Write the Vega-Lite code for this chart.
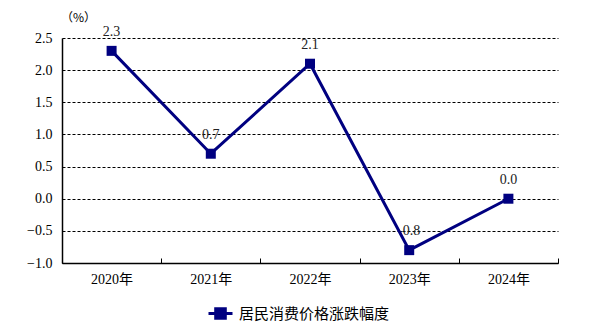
{
  "$schema": "https://vega.github.io/schema/vega-lite/v6.json",
  "width": 496,
  "height": 225,
  "autosize": {"type": "none"},
  "padding": {"left": 62, "top": 38, "right": 32, "bottom": 61},
  "background": "white",
  "config": {
    "view": {"stroke": null},
    "font": "Times New Roman"
  },
  "data": {
    "values": [
      {"year": "2020年", "value": 2.3, "label": "2.3", "series": "居民消费价格涨跌幅度"},
      {"year": "2021年", "value": 0.7, "label": "0.7", "series": "居民消费价格涨跌幅度"},
      {"year": "2022年", "value": 2.1, "label": "2.1", "series": "居民消费价格涨跌幅度"},
      {"year": "2023年", "value": -0.8, "label": "-0.8", "series": "居民消费价格涨跌幅度"},
      {"year": "2024年", "value": 0.0, "label": "0.0", "series": "居民消费价格涨跌幅度"}
    ]
  },
  "encoding": {
    "x": {
      "field": "year",
      "type": "ordinal",
      "scale": {"type": "band", "paddingInner": 0, "paddingOuter": 0},
      "axis": {
        "title": null,
        "labelAngle": 0,
        "tickBand": "extent",
        "labelFont": "Times New Roman, Noto Sans CJK SC",
        "labelFontSize": 14,
        "labelColor": "#000",
        "domainColor": "#000",
        "domainWidth": 1.5,
        "tickColor": "#000",
        "tickWidth": 1,
        "tickSize": -5,
        "labelPadding": 14,
        "grid": false
      }
    },
    "y": {
      "field": "value",
      "type": "quantitative",
      "scale": {"domain": [-1, 2.5], "nice": false, "zero": false},
      "axis": {
        "values": [-1, -0.5, 0, 0.5, 1, 1.5, 2, 2.5],
        "format": ".1f",
        "title": "（%）",
        "titleAngle": 0,
        "titleX": 16,
        "titleY": -21,
        "titleAlign": "center",
        "titleBaseline": "middle",
        "titleFont": "Noto Sans CJK SC",
        "titleFontSize": 12,
        "titleFontWeight": "normal",
        "titleColor": "#000",
        "labelFont": "Times New Roman",
        "labelFontSize": 14,
        "labelColor": "#000",
        "labelPadding": 10,
        "ticks": false,
        "domainColor": "#000",
        "domainWidth": 1.5,
        "grid": true,
        "gridColor": "#000",
        "gridDash": [3, 2],
        "gridWidth": 1,
        "gridOpacity": 1
      }
    }
  },
  "layer": [
    {
      "mark": {"type": "text", "font": "Times New Roman", "fontSize": 14, "color": "#222", "dy": -19},
      "encoding": {"text": {"field": "label"}}
    },
    {
      "mark": {"type": "line", "strokeWidth": 3},
      "encoding": {
        "color": {
          "field": "series",
          "type": "nominal",
          "scale": {"range": ["#000080"]},
          "legend": {
            "title": null,
            "orient": "none",
            "legendX": 145,
            "legendY": 262,
            "symbolType": "M-1,0H1M-0.4,-0.4H0.4V0.4H-0.4Z",
            "symbolSize": 576,
            "symbolStrokeWidth": 3,
            "symbolStrokeColor": "#000080",
            "symbolFillColor": "#000080",
            "labelFont": "Noto Sans CJK SC",
            "labelFontSize": 15,
            "labelColor": "#000",
            "labelOffset": 5
          }
        }
      }
    },
    {
      "mark": {"type": "point", "shape": "square", "size": 100, "filled": true, "opacity": 1, "color": "#000080"},
      "encoding": {}
    }
  ]
}
